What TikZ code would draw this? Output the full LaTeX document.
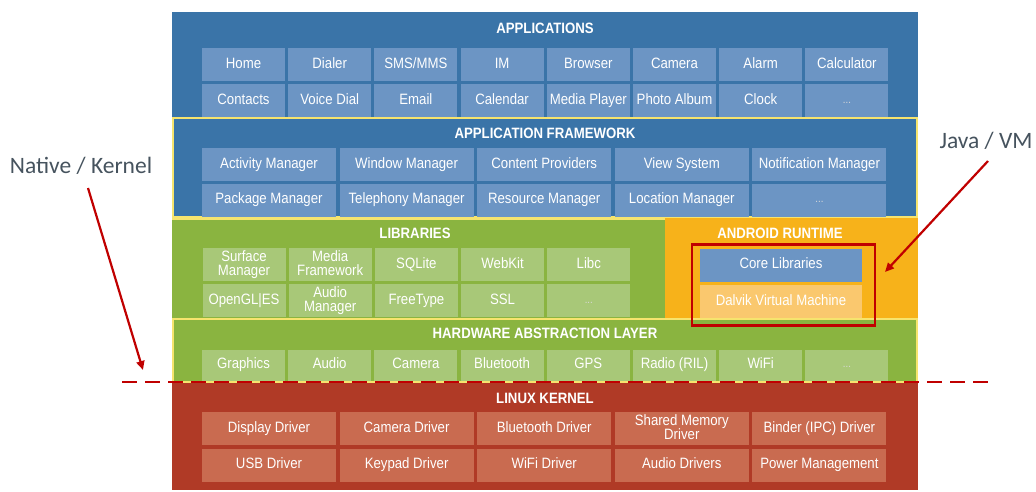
\documentclass[tikz,border=0pt]{standalone}
\usepackage{fontspec}
\setmainfont{Liberation Sans}[FakeStretch=0.88]
\newfontfamily\labelfont{Carlito}
\usetikzlibrary{arrows.meta}
\definecolor{bgblue}{RGB}{58,116,168}
\definecolor{boxblue}{RGB}{108,149,196}
\definecolor{bggreen}{RGB}{138,180,64}
\definecolor{boxgreen}{RGB}{168,200,120}
\definecolor{bgorange}{RGB}{247,178,26}
\definecolor{boxorange}{RGB}{250,200,110}
\definecolor{bgred}{RGB}{176,58,38}
\definecolor{boxred}{RGB}{201,107,80}
\definecolor{bordery}{RGB}{246,228,110}
\definecolor{darkred}{RGB}{192,0,0}
\definecolor{labelgray}{RGB}{70,83,94}
\newcommand{\boxfont}{\fontsize{15}{14}\selectfont}
\newcommand{\titlefont}{\fontsize{15}{16}\selectfont\bfseries}
\begin{document}
\begin{tikzpicture}[x=1pt,y=-1pt,
  cell/.style={rectangle, inner sep=0pt, text=white, font=\boxfont, align=center, minimum height=33pt,
    execute at begin node={\vphantom{Ay}}, execute at end node={\vphantom{Ay}}},
  narrowcell/.style={cell, minimum width=83pt},
  widecell/.style={cell, minimum width=134pt},
  layertitle/.style={text=white, font=\titlefont, inner sep=0pt},
  dots/.style={text=white!85!black, font=\fontsize{11}{12}\selectfont},
  redarrow/.style={draw=darkred, line width=2.2pt, -{Triangle[length=9pt,width=8pt]}},
  sidelabel/.style={text=labelgray, font=\labelfont\fontsize{23.5}{25}\selectfont, inner sep=0pt}
]
\useasboundingbox (0,0) rectangle (1036,491);

% ---- layers ----
\fill[bgblue] (172,12) rectangle (918,117);
\fill[bgblue] (172,117) rectangle (918,218);
\draw[bordery, line width=2pt] (173,118) rectangle (917,217);
\fill[bggreen] (172,218) rectangle (665,318);
\fill[bgorange] (665,218) rectangle (918,318);
\draw[bordery, line width=1.5pt] (172,219) -- (665,219);
\fill[bggreen] (172,318) rectangle (918,383);
\draw[bordery, line width=2pt] (173,319) rectangle (917,382);
\fill[bgred] (172,383) rectangle (918,490);

% ---- titles ----
\node[layertitle] (tapps) at (545,28) {APPLICATIONS};
\node[layertitle] (tfw) at (545,133) {APPLICATION FRAMEWORK};
\node[layertitle] (tlib) at (415,233) {LIBRARIES};
\node[layertitle] (trt) at (780,233) {ANDROID RUNTIME};
\node[layertitle] (thal) at (545,333) {HARDWARE ABSTRACTION LAYER};
\node[layertitle] (tkern) at (545,398) {LINUX KERNEL};

% ---- applications ----
\foreach \t [count=\i from 0] in {Home,Dialer,SMS/MMS,IM,Browser,Camera,Alarm,Calculator}
  \node[narrowcell, fill=boxblue] (apa\i) at ({243.5+86.2*\i},64.5) {\t};
\foreach \t [count=\i from 0] in {Contacts,Voice Dial,Email,Calendar,Media Player,Photo Album,Clock}
  \node[narrowcell, fill=boxblue] (apb\i) at ({243.5+86.2*\i},100.5) {\t};
\node[narrowcell, fill=boxblue, dots] (apb7) at ({243.5+86.2*7},100.5) {...};

% ---- application framework ----
\foreach \t [count=\i from 0] in {Activity Manager,Window Manager,Content Providers,View System,Notification Manager}
  \node[widecell, fill=boxblue] (fwa\i) at ({269+137.6*\i},164.5) {\t};
\foreach \t [count=\i from 0] in {Package Manager,Telephony Manager,Resource Manager,Location Manager}
  \node[widecell, fill=boxblue] (fwb\i) at ({269+137.6*\i},200) {\t};
\node[widecell, fill=boxblue, dots] (fwb4) at ({269+137.6*4},200) {...};

% ---- libraries ----
\foreach \t [count=\i from 0] in {{Surface\\Manager},{Media\\Framework},SQLite,WebKit,Libc}
  \node[narrowcell, fill=boxgreen] (lba\i) at ({244+86.2*\i},264.5) {\t};
\foreach \t [count=\i from 0] in {OpenGL|ES,{Audio\\Manager},FreeType,SSL}
  \node[narrowcell, fill=boxgreen] (lbb\i) at ({244+86.2*\i},300.5) {\t};
\node[narrowcell, fill=boxgreen, dots] (lbb4) at ({244+86.2*4},300.5) {...};

% ---- android runtime ----
\node[cell, minimum width=162pt, fill=boxblue] (core) at (781,265) {Core Libraries};
\node[cell, minimum width=162pt, fill=boxorange] (dalvik) at (781,301.5) {Dalvik Virtual Machine};
\node[draw=darkred, line width=2.2pt, minimum width=183pt, minimum height=81pt, inner sep=0pt] (vmframe) at (783.5,285) {};

% ---- hardware abstraction layer ----
\foreach \t [count=\i from 0] in {Graphics,Audio,Camera,Bluetooth,GPS,Radio (RIL),WiFi}
  \node[narrowcell, minimum height=31pt, fill=boxgreen] (hal\i) at ({243.5+86.2*\i},365) {\t};
\node[narrowcell, minimum height=31pt, fill=boxgreen, dots] (hal7) at ({243.5+86.2*7},365) {...};

% ---- linux kernel ----
\foreach \t [count=\i from 0] in {Display Driver,Camera Driver,Bluetooth Driver,{Shared Memory\\Driver},Binder (IPC) Driver}
  \node[widecell, fill=boxred] (kna\i) at ({269+137.6*\i},428.5) {\t};
\foreach \t [count=\i from 0] in {USB Driver,Keypad Driver,WiFi Driver,Audio Drivers,Power Management}
  \node[widecell, fill=boxred] (knb\i) at ({269+137.6*\i},465) {\t};

% ---- dashed boundary ----
\coordinate (dl) at (122,382);
\coordinate (dr) at (992,382);
\draw[darkred, line width=2.2pt, dash pattern=on 15pt off 8pt] (dl) -- (dr);

% ---- side labels and arrows ----
\node[sidelabel] (native) at (81,166) {Native / Kernel};
\node[sidelabel] (java) at (986,141) {Java / VM};
\coordinate (nstart) at (88,188);
\coordinate (nend) at (143,370);
\coordinate (jstart) at (988,161);
\coordinate (jend) at (885,272);
\draw[redarrow] (nstart) -- (nend);
\draw[redarrow] (jstart) -- (jend);
\end{tikzpicture}
\end{document}
